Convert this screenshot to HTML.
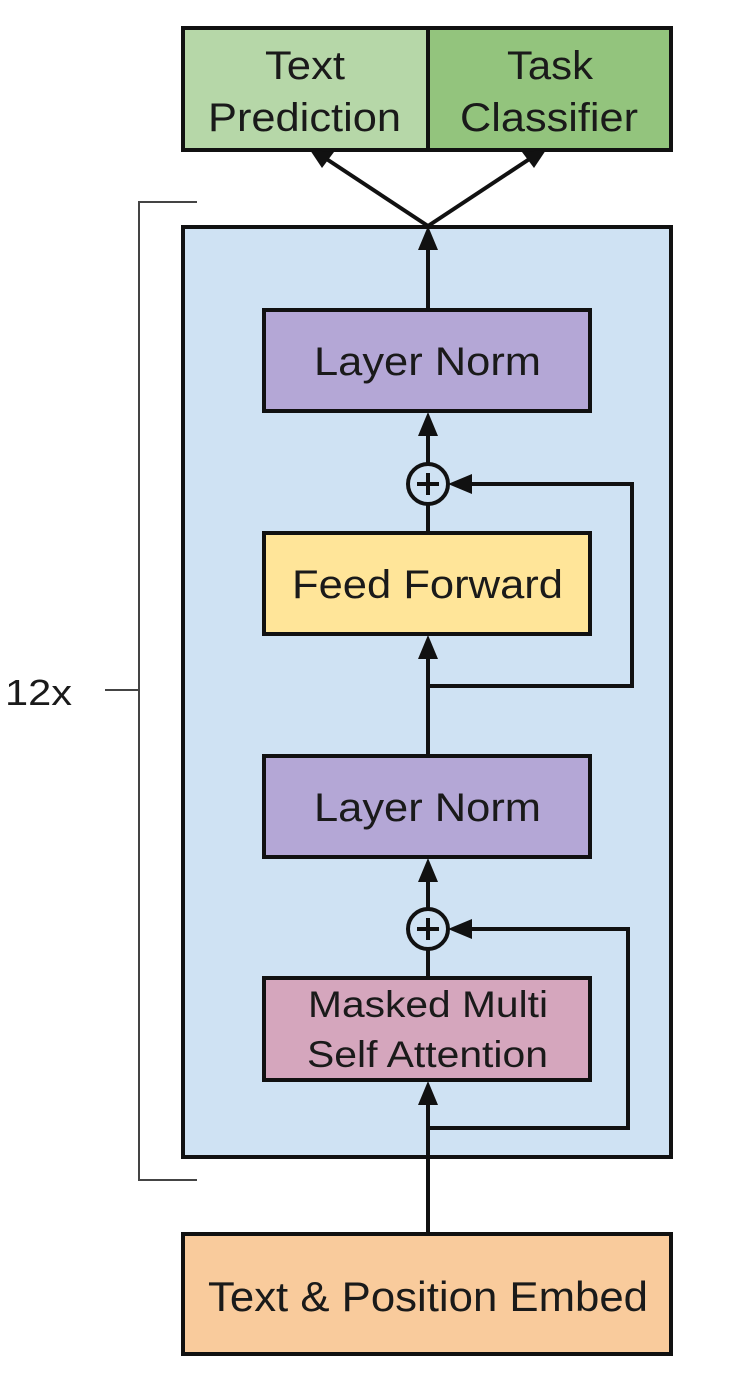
<!DOCTYPE html>
<html><head><style>
html,body{margin:0;padding:0;background:#fff;}
svg text{font-family:"Liberation Sans",sans-serif;fill:#1a1a1a;}
</style></head><body>
<svg width="748" height="1370" viewBox="0 0 748 1370" xmlns="http://www.w3.org/2000/svg">
<!-- bracket -->
<path d="M197,202 H139 V1180 H197" fill="none" stroke="#444" stroke-width="2"/>
<line x1="105" y1="690" x2="139" y2="690" stroke="#444" stroke-width="2"/>
<text x="5" y="705" font-size="36" textLength="67" lengthAdjust="spacingAndGlyphs">12x</text>
<!-- top boxes -->
<rect x="183" y="28" width="245" height="122" fill="#b6d7a8" stroke="#111" stroke-width="4"/>
<rect x="428" y="28" width="243" height="122" fill="#93c47d" stroke="#111" stroke-width="4"/>
<text x="265" y="79" font-size="40" textLength="80" lengthAdjust="spacingAndGlyphs">Text</text>
<text x="208" y="131" font-size="40" textLength="193" lengthAdjust="spacingAndGlyphs">Prediction</text>
<text x="507" y="79" font-size="40" textLength="86" lengthAdjust="spacingAndGlyphs">Task</text>
<text x="460" y="131" font-size="40" textLength="178" lengthAdjust="spacingAndGlyphs">Classifier</text>
<!-- arrows to top -->
<g stroke="#111" stroke-width="4" fill="none">
<line x1="428" y1="226" x2="325" y2="158"/>
<line x1="428" y1="226" x2="531" y2="158"/>
</g>
<polygon points="310,150 334,152 322,168" fill="#111"/>
<polygon points="546,150 522,152 534,168" fill="#111"/>
<!-- main box -->
<rect x="183" y="227" width="488" height="930" fill="#cfe2f3" stroke="#111" stroke-width="4"/>
<g stroke="#111" stroke-width="4" fill="none">
<line x1="428" y1="248" x2="428" y2="309"/>
<line x1="428" y1="432" x2="428" y2="464"/>
<line x1="428" y1="504" x2="428" y2="532"/>
<line x1="428" y1="655" x2="428" y2="755"/>
<path d="M428,686 H632 V484 H468"/>
<line x1="428" y1="878" x2="428" y2="909"/>
<line x1="428" y1="949" x2="428" y2="977"/>
<line x1="428" y1="1100" x2="428" y2="1233"/>
<path d="M428,1128 H628 V929 H468"/>
<circle cx="428" cy="484" r="20"/>
<circle cx="428" cy="929" r="20"/>
<line x1="428" y1="473" x2="428" y2="495"/>
<line x1="417" y1="484" x2="439" y2="484"/>
<line x1="428" y1="918" x2="428" y2="940"/>
<line x1="417" y1="929" x2="439" y2="929"/>
</g>
<g fill="#111">
<polygon points="428,226 418,250 438,250"/>
<polygon points="428,412 418,436 438,436"/>
<polygon points="428,635 418,659 438,659"/>
<polygon points="428,858 418,882 438,882"/>
<polygon points="428,1081 418,1105 438,1105"/>
<polygon points="448,484 472,474 472,494"/>
<polygon points="448,929 472,919 472,939"/>
</g>
<!-- inner boxes -->
<rect x="264" y="310" width="326" height="101" fill="#b4a7d6" stroke="#111" stroke-width="4"/>
<text x="314" y="375" font-size="40" textLength="227" lengthAdjust="spacingAndGlyphs">Layer Norm</text>
<rect x="264" y="533" width="326" height="101" fill="#ffe599" stroke="#111" stroke-width="4"/>
<text x="292" y="598" font-size="40" textLength="271" lengthAdjust="spacingAndGlyphs">Feed Forward</text>
<rect x="264" y="756" width="326" height="101" fill="#b4a7d6" stroke="#111" stroke-width="4"/>
<text x="314" y="821" font-size="40" textLength="227" lengthAdjust="spacingAndGlyphs">Layer Norm</text>
<rect x="264" y="978" width="326" height="102" fill="#d5a6bd" stroke="#111" stroke-width="4"/>
<text x="308" y="1017" font-size="37" textLength="240" lengthAdjust="spacingAndGlyphs">Masked Multi</text>
<text x="307" y="1067" font-size="37" textLength="241" lengthAdjust="spacingAndGlyphs">Self Attention</text>
<!-- embed -->
<rect x="183" y="1234" width="488" height="120" fill="#f9cb9c" stroke="#111" stroke-width="4"/>
<text x="208" y="1311" font-size="42" textLength="440" lengthAdjust="spacingAndGlyphs">Text &amp; Position Embed</text>
</svg>
</body></html>
